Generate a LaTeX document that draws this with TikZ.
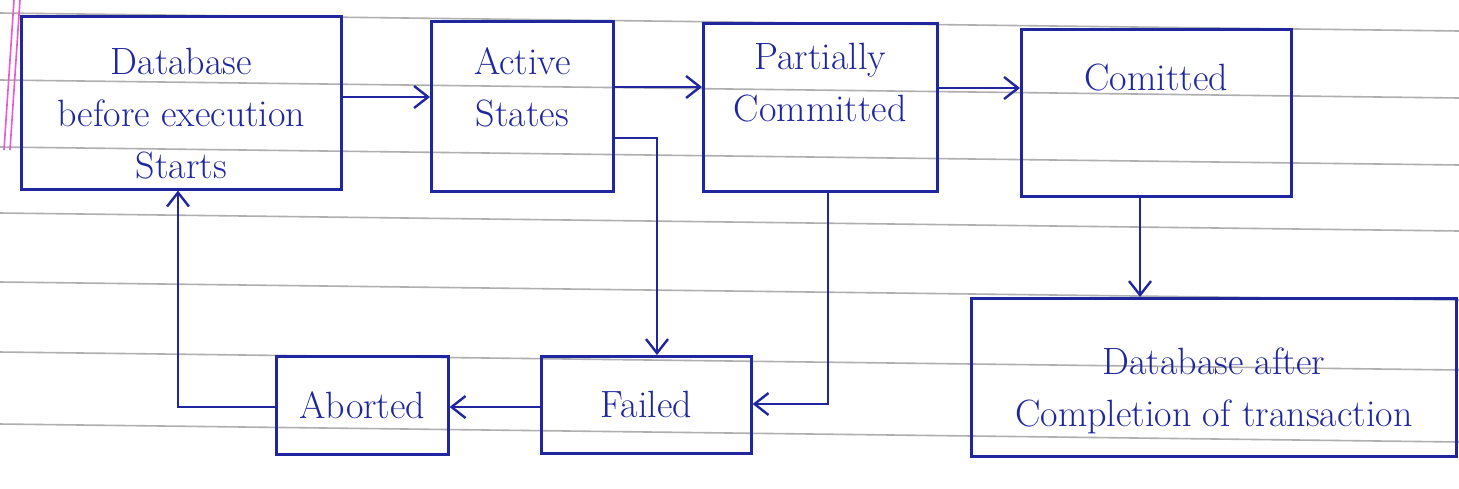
\documentclass[tikz,border=0pt]{standalone}
\usetikzlibrary{arrows.meta}
\definecolor{ink}{RGB}{32,38,160}
\definecolor{rule}{RGB}{175,175,175}
\definecolor{margin}{RGB}{235,90,200}
\begin{document}
\begin{tikzpicture}[x=0.5pt,y=-0.5pt,
  box/.style={draw=ink,line width=1.3pt,inner sep=0pt,anchor=north west,text=ink,
    font=\fontsize{19}{26}\selectfont,align=center},
  conn/.style={draw=ink,line width=1.3pt,-{Straight Barb[length=7pt,width=11pt,line width=1.2pt]}},
  ruled/.style={draw=rule,line width=0.8pt}]
\fill[white] (0,0) rectangle (1459,488);
\useasboundingbox (0,0) rectangle (1459,488);
% notebook ruling
\foreach \y in {13,80,147,213,282,352,424} {\draw[ruled] (0,\y) -- (1459,\y+18);}
\draw[margin,line width=0.8pt] (14,0) -- (4,150);
\draw[margin,line width=0.8pt] (20,0) -- (10,150);
% boxes
\node[box,minimum width=160pt,minimum height=86.5pt] (dbb) at (20,15) {Database\\before execution\\Starts\\[-37pt]};
\node[box,minimum width=91pt,minimum height=85pt] (act) at (430,20) {Active\\States\\[-7pt]};
\node[box,minimum width=117pt,minimum height=84pt] (par) at (702,22) {Partially\\Committed\\[-1pt]};
\node[box,minimum width=135pt,minimum height=83.5pt] (com) at (1020,28) {Comitted\\[10pt]};
\node[box,minimum width=242.5pt,minimum height=79pt] (dba) at (970,297) {Database after\\Completion of transaction\\[-36pt]};
\node[box,minimum width=105pt,minimum height=48.5pt] (fai) at (540,355) {Failed};
\node[box,minimum width=86pt,minimum height=49pt] (abo) at (275,355) {Aborted};
% connectors
\draw[conn] (dbb.east |- 0,97) -- (act.west |- 0,97);
\draw[conn] (act.east |- 0,87) -- (par.west |- 0,87);
\draw[conn] (par.east |- 0,88) -- (com.west |- 0,88);
\draw[conn] (com.south -| 1140,0) -- (dba.north -| 1140,0);
\coordinate (a1) at (657,138);
\draw[conn] (act.east |- a1) -- (a1) -- (fai.north -| a1);
\coordinate (p1) at (828,404);
\draw[conn] (par.south -| p1) -- (p1) -- (fai.east |- p1);
\draw[conn] (fai.west |- 0,407) -- (abo.east |- 0,407);
\coordinate (b1) at (178,407);
\draw[conn] (abo.west |- b1) -- (b1) -- (dbb.south -| b1);
\end{tikzpicture}
\end{document}
